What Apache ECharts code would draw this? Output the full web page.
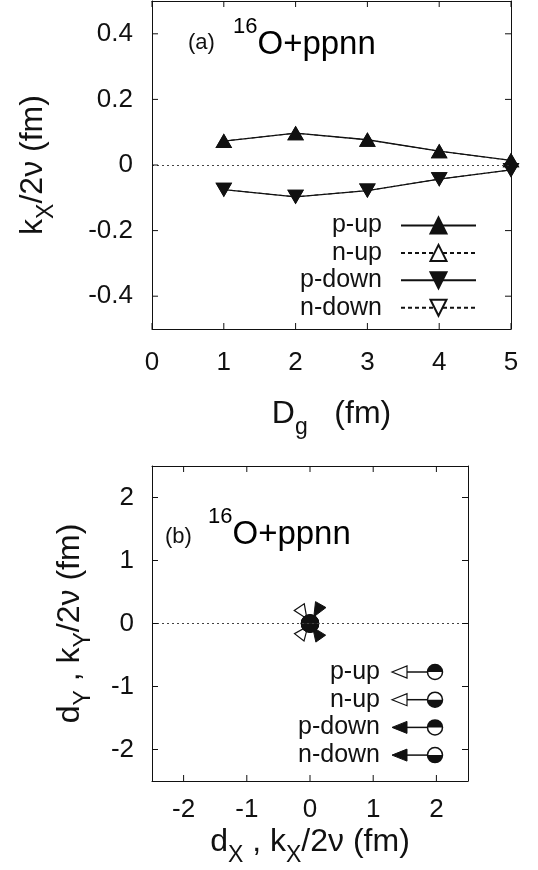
<!DOCTYPE html>
<html lang="en">
<head>
<meta charset="UTF-8">
<title>16O+ppnn</title>
<script src="https://cdn.jsdelivr.net/npm/echarts@6/dist/echarts.min.js"></script>
<style>html,body{margin:0;padding:0;background:#fff}</style>
</head>
<body>
<div id="chart" style="width:538px;height:870px"></div>
<script>
const FONT = '"Liberation Sans", Arial, sans-serif';
const INK = '#111';

// panel (a): k_X/2nu vs D_g
const dg = [1, 2, 3, 4, 5];
const pUp = [0.073, 0.097, 0.077, 0.042, 0.014];
const nUp = [0.073, 0.097, 0.077, 0.042, 0.014];
const pDown = [-0.075, -0.097, -0.078, -0.043, -0.015];
const nDown = [-0.075, -0.097, -0.078, -0.043, -0.015];
const dgTicks = [0, 1, 2, 3, 4, 5];
const kTicksA = [-0.4, -0.2, 0, 0.2, 0.4];

// panel (b): displacement d and k/2nu vectors
const vecNames = ['p-up', 'n-up', 'p-down', 'n-down'];
const dX = [0, 0, 0, 0];
const dY = [0, 0, 0, 0];
const kX = [-0.17, -0.17, 0.17, 0.17];
const kY = [0.26, -0.22, 0.30, -0.24];
const ticksB = [-2, -1, 0, 1, 2];

const openHead = [true, true, false, false];
const topBlack = [true, false, true, false];

const nameRich = {
  m: { fontSize: 32, fontFamily: FONT, color: INK, verticalAlign: 'top' },
  s: { fontSize: 23, fontFamily: FONT, color: INK, verticalAlign: 'bottom', padding: [18, 0, 0, 0] }
};

function axis(extra) {
  return Object.assign({
    type: 'value',
    z: 5,
    axisLine: { show: true, onZero: false, lineStyle: { color: INK, width: 1 } },
    splitLine: { show: false },
    axisTick: { show: false },
    axisLabel: { fontFamily: FONT, fontSize: 26, color: INK }
  }, extra);
}

function mirror(extra) {
  return axis(Object.assign({ axisLabel: { show: false } }, extra));
}

const zeroLine = {
  silent: true,
  symbol: ['none', 'none'],
  label: { show: false },
  lineStyle: { color: '#444', width: 1, type: [2, 3] },
  data: [{ yAxis: 0 }]
};

function lineSeries(name, values, filled, down) {
  return {
    name: name,
    type: 'line',
    xAxisIndex: 0,
    yAxisIndex: 0,
    data: dg.map((x, i) => [x, values[i]]),
    symbol: 'triangle',
    symbolSize: [15, 13],
    symbolRotate: down ? 180 : 0,
    itemStyle: filled ? { color: INK, borderColor: INK, borderWidth: 1 } : { color: '#fff', borderColor: INK, borderWidth: 1 },
    lineStyle: { color: INK, width: filled ? 1.3 : 1, type: filled ? 'solid' : [4, 3] },
    z: filled ? 4 : 3
  };
}

function circleParts(cx, cy, r, black) {
  return [
    { type: 'circle', z2: 10, shape: { cx: cx, cy: cy, r: r }, style: { fill: '#fff', stroke: INK, lineWidth: 1.5 } },
    { type: 'sector', z2: 20, shape: { cx: cx, cy: cy, r0: 0, r: r, startAngle: black ? Math.PI : 0, endAngle: black ? 2 * Math.PI : Math.PI }, style: { fill: INK } }
  ];
}

function headPoly(tipX, tipY, ux, uy, len, wid, open) {
  // ux,uy: unit direction the head points to
  const bx = tipX - ux * len, by = tipY - uy * len;
  const nx = -uy * wid / 2, ny = ux * wid / 2;
  return {
    type: 'polygon', z2: 5,
    shape: { points: [[tipX, tipY], [bx + nx, by + ny], [bx - nx, by - ny]] },
    style: open ? { fill: '#fff', stroke: INK, lineWidth: 1.2 } : { fill: INK, stroke: INK, lineWidth: 1 }
  };
}

function renderVector(params, api) {
  const i = params.dataIndex;
  const p = api.coord([api.value(0), api.value(1)]);
  const q = api.coord([api.value(0) + api.value(2), api.value(1) + api.value(3)]);
  const dx = p[0] - q[0], dy = p[1] - q[1];
  const L = Math.sqrt(dx * dx + dy * dy) || 1;
  const ux = dx / L, uy = dy / L;
  const len = 14;
  const children = [
    { type: 'line', z2: 4, shape: { x1: p[0], y1: p[1], x2: q[0], y2: q[1] }, style: { stroke: INK, lineWidth: 1.2 } },
    headPoly(q[0] + ux * len, q[1] + uy * len, ux, uy, len, 12, openHead[i])
  ].concat(circleParts(p[0], p[1], 8.5, topBlack[i]));
  return { type: 'group', children: children };
}

// legend of panel (b)
const legendB = [];
vecNames.forEach((n, i) => {
  const y = 672 + i * 27.7;
  legendB.push({ type: 'text', x: 380, y: y, style: { text: n, fontSize: 25, fontFamily: FONT, fill: INK, align: 'right', verticalAlign: 'middle' } });
  legendB.push({ type: 'line', shape: { x1: 400, y1: y, x2: 428, y2: y }, style: { stroke: INK, lineWidth: 1.5 } });
  legendB.push(headPoly(392, y, -1, 0, 15, 12, openHead[i]));
  circleParts(435, y, 7.5, topBlack[i]).forEach(c => legendB.push(c));
});

const labelRich = {
  s: { fontSize: 22, fontFamily: FONT, color: INK, verticalAlign: 'top' },
  m: { fontSize: 33, fontFamily: FONT, color: INK, verticalAlign: 'top', padding: [12, 0, 0, 0] }
};

const graphics = [
  { type: 'text', x: 188, y: 43, style: { text: '(a)', fontSize: 22, fontFamily: FONT, fill: INK, verticalAlign: 'middle' } },
  { type: 'text', x: 233, y: 16, style: { text: '{s|16}{m|O+ppnn}', rich: labelRich, verticalAlign: 'top' } },
  { type: 'text', x: 165, y: 537, style: { text: '(b)', fontSize: 22, fontFamily: FONT, fill: INK, verticalAlign: 'middle' } },
  { type: 'text', x: 208, y: 506, style: { text: '{s|16}{m|O+ppnn}', rich: labelRich, verticalAlign: 'top' } }
].concat(legendB);

const chart = echarts.init(document.getElementById('chart'));
chart.setOption({
  animation: false,
  backgroundColor: '#fff',
  grid: [
    { left: 152, top: 1, width: 359, height: 328 },
    { left: 152, top: 466, width: 316, height: 315 }
  ],
  xAxis: [
    axis({
      gridIndex: 0, min: 0, max: 5, interval: 1, position: 'bottom',
      axisLabel: { fontFamily: FONT, fontSize: 26, color: INK, margin: 21 },
      name: '{m|D}{s|g}{m|   (fm)}', nameLocation: 'middle', nameGap: 69,
      nameTextStyle: { rich: nameRich }
    }),
    mirror({ gridIndex: 0, position: 'top', min: 0, max: 5, interval: 1 }),
    axis({
      gridIndex: 1, min: -2.5, max: 2.5, position: 'bottom',
      axisLabel: { fontFamily: FONT, fontSize: 26, color: INK, margin: 16, customValues: ticksB },
      name: '{m|d}{s|X}{m| , k}{s|X}{m|/2ν (fm)}', nameLocation: 'middle', nameGap: 45,
      nameTextStyle: { rich: nameRich }
    }),
    mirror({ gridIndex: 1, position: 'top', min: -2.5, max: 2.5 })
  ],
  yAxis: [
    axis({
      gridIndex: 0, min: -0.5, max: 0.5, position: 'left',
      axisLabel: { fontFamily: FONT, fontSize: 26, color: INK, margin: 19, customValues: kTicksA },
      name: '{m|k}{s|X}{m|/2ν (fm)}', nameLocation: 'middle', nameGap: 94,
      nameTextStyle: { rich: nameRich }
    }),
    mirror({ gridIndex: 0, position: 'right', min: -0.5, max: 0.5 }),
    axis({
      gridIndex: 1, min: -2.5, max: 2.5, position: 'left',
      axisLabel: { fontFamily: FONT, fontSize: 26, color: INK, margin: 18, customValues: ticksB },
      name: '{m|d}{s|Y}{m| , k}{s|Y}{m|/2ν (fm)}', nameLocation: 'middle', nameGap: 57,
      nameTextStyle: { rich: nameRich }
    }),
    mirror({ gridIndex: 1, position: 'right', min: -2.5, max: 2.5 })
  ],
  legend: {
    data: ['p-up', 'n-up', 'p-down', 'n-down'],
    orient: 'vertical', align: 'right', right: 61, top: 213, padding: 0,
    itemWidth: 75, itemHeight: 20, itemGap: 2.4, selectedMode: false,
    textStyle: { fontFamily: FONT, fontSize: 25, color: INK, lineHeight: 20, padding: [0, 14, 0, 0] }
  },
  graphic: graphics,
  series: [
    Object.assign(lineSeries('n-up', nUp, false, false), { markLine: zeroLine }),
    lineSeries('n-down', nDown, false, true),
    lineSeries('p-up', pUp, true, false),
    lineSeries('p-down', pDown, true, true),
    {
      type: 'custom',
      name: 'vectors',
      xAxisIndex: 2,
      yAxisIndex: 2,
      data: vecNames.map((n, i) => ({ name: n, value: [dX[i], dY[i], kX[i], kY[i]] })),
      renderItem: renderVector,
      markLine: zeroLine,
      z: 3
    }
  ]
});

// inward tick marks on all four sides, placed through the axis scales
function tickMarks() {
  const out = [];
  const L = 6;
  const add = (x1, y1, x2, y2) => out.push({
    type: 'line', silent: true, z: 10,
    shape: { x1: x1, y1: y1, x2: x2, y2: y2 },
    style: { stroke: INK, lineWidth: 1 }
  });
  const panels = [
    { xi: 0, yi: 0, xr: [0, 5], yr: [-0.5, 0.5], xt: dgTicks, yt: kTicksA },
    { xi: 2, yi: 2, xr: [-2.5, 2.5], yr: [-2.5, 2.5], xt: ticksB, yt: ticksB }
  ];
  panels.forEach(p => {
    const px = v => chart.convertToPixel({ xAxisIndex: p.xi }, v);
    const py = v => chart.convertToPixel({ yAxisIndex: p.yi }, v);
    const left = px(p.xr[0]), right = px(p.xr[1]);
    const top = py(p.yr[1]), bottom = py(p.yr[0]);
    p.xt.forEach(v => { const x = px(v); add(x, bottom, x, bottom - L); add(x, top, x, top + L); });
    p.yt.forEach(v => { const y = py(v); add(left, y, left + L, y); add(right, y, right - L, y); });
  });
  return out;
}

chart.setOption({ graphic: graphics.concat(tickMarks()) });
</script>
</body>
</html>
